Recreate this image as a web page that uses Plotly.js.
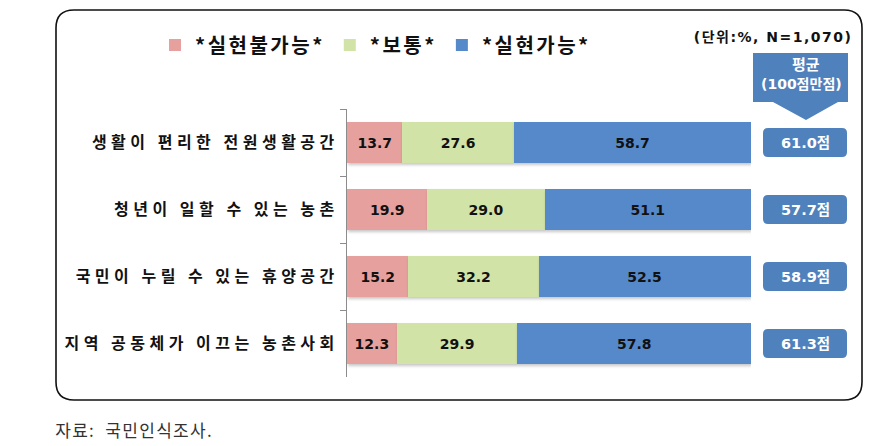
<!DOCTYPE html>
<html>
<head>
<meta charset="utf-8">
<script src="https://cdn.plot.ly/plotly-3.0.1.min.js"></script>
<style>
  html, body { margin: 0; padding: 0; background: #fff; }
  #chart { width: 896px; height: 446px; }
  .ytick text { letter-spacing: 4.5px; }
  .legendtext { letter-spacing: 2.5px; }
  .bars .point path { filter: drop-shadow(1px 2px 1.5px rgba(0,0,0,0.22)); }
  .annotation[data-index="6"] text { letter-spacing: 1.5px; }
  .annotation[data-index="7"] text { letter-spacing: 1.3px; }
</style>
</head>
<body>
<div id="chart"></div>
<script>
const categories = ['생활이 편리한 전원생활공간', '청년이 일할 수 있는 농촌', '국민이 누릴 수 있는 휴양공간', '지역 공동체가 이끄는 농촌사회'];
const seriesNames = ['*실현불가능*', '*보통*', '*실현가능*'];
const impossible = [13.7, 19.9, 15.2, 12.3];
const normal = [27.6, 29.0, 32.2, 29.9];
const possible = [58.7, 51.1, 52.5, 57.8];
const averages = [61.0, 57.7, 58.9, 61.3];
const unitText = '(단위:%, N=1,070)';
const headerLines = ['평균', '(100점만점)'];
const sourceText = '자료:  국민인식조사.';

const colors = ['#E6A19F', '#D1E3A7', '#5589C9'];
const boxColor = '#4F81BD';
const numFont = 'DejaVu Sans, Noto Sans CJK KR, sans-serif';
const krFont = 'Noto Sans CJK KR, sans-serif';

const seriesValues = [impossible, normal, possible];
const traces = seriesValues.map((vals, i) => ({
  type: 'bar',
  orientation: 'h',
  name: seriesNames[i],
  y: categories,
  x: vals,
  marker: { color: colors[i], line: { width: 0 } },
  texttemplate: '%{x:.1f}',
  textposition: 'inside',
  insidetextanchor: 'middle',
  constraintext: 'none',
  textfont: { family: numFont, size: 14, color: '#111', weight: 'bold' },
  hoverinfo: 'skip'
}));

// plot area in pixels: x 347..751, y 109..377
const L = 347, R = 751, T = 109, B = 377;
const px = v => (v - L) / (R - L);
const py = v => (B - v) / (B - T);

function roundRectPaper(x0, y0, x1, y1, r) {
  const P = (x, y) => px(x).toFixed(5) + ',' + py(y).toFixed(5);
  return 'M' + P(x0 + r, y0) + ' L' + P(x1 - r, y0) + ' Q' + P(x1, y0) + ' ' + P(x1, y0 + r) +
    ' L' + P(x1, y1 - r) + ' Q' + P(x1, y1) + ' ' + P(x1 - r, y1) +
    ' L' + P(x0 + r, y1) + ' Q' + P(x0, y1) + ' ' + P(x0, y1 - r) +
    ' L' + P(x0, y0 + r) + ' Q' + P(x0, y0) + ' ' + P(x0 + r, y0) + ' Z';
}

const shapes = [];
shapes.push({ type: 'path', xref: 'paper', yref: 'paper', path: roundRectPaper(56, 10, 862, 400, 18),
  line: { color: '#111', width: 1.6 }, fillcolor: 'rgba(0,0,0,0)', layer: 'below' });
const P = (x, y) => px(x).toFixed(5) + ',' + py(y).toFixed(5);
shapes.push({ type: 'path', xref: 'paper', yref: 'paper',
  path: 'M' + P(753, 53) + ' L' + P(848, 53) + ' L' + P(848, 102) + ' L' + P(838, 102) + ' L' + P(806, 120) +
    ' L' + P(773, 102) + ' L' + P(753, 102) + ' Z',
  line: { width: 0 }, fillcolor: boxColor });
const boxPath = 'M -37 -14.5 L 37 -14.5 Q 42 -14.5 42 -9.5 L 42 9.5 Q 42 14.5 37 14.5 L -37 14.5 Q -42 14.5 -42 9.5 L -42 -9.5 Q -42 -14.5 -37 -14.5 Z';
categories.forEach((c, i) => {
  shapes.push({ type: 'path', xref: 'paper', yref: 'y', xsizemode: 'pixel', ysizemode: 'pixel',
    xanchor: px(805), yanchor: c, path: boxPath, line: { width: 0 }, fillcolor: boxColor });
});

const annotations = [];
categories.forEach((c, i) => {
  annotations.push({ xref: 'paper', yref: 'y', x: px(805), y: c, text: averages[i].toFixed(1) + '점',
    showarrow: false, xanchor: 'center', yanchor: 'middle',
    font: { family: numFont, size: 14.5, color: '#fff', weight: 'bold' } });
});
annotations.push({ xref: 'paper', yref: 'paper', x: px(806), y: py(64), text: headerLines[0], showarrow: false,
  xanchor: 'center', yanchor: 'middle', font: { family: krFont, size: 15, color: '#fff', weight: 'bold' } });
annotations.push({ xref: 'paper', yref: 'paper', x: px(801), y: py(84), text: headerLines[1], showarrow: false,
  xanchor: 'center', yanchor: 'middle', font: { family: numFont, size: 14, color: '#fff', weight: 'bold' } });
annotations.push({ xref: 'paper', yref: 'paper', x: px(843), y: py(37), text: unitText, showarrow: false,
  xanchor: 'right', yanchor: 'middle', font: { family: numFont, size: 14, color: '#111', weight: 'bold' } });
annotations.push({ xref: 'paper', yref: 'paper', x: px(61), y: py(429), text: sourceText, showarrow: false,
  xanchor: 'left', yanchor: 'middle', font: { family: krFont, size: 17, color: '#333' } });

const layout = {
  width: 896, height: 446,
  margin: { l: L, r: 896 - R, t: T, b: 446 - B, pad: 0 },
  paper_bgcolor: '#fff', plot_bgcolor: '#fff',
  barmode: 'stack', bargap: 0.39,
  showlegend: true,
  legend: { orientation: 'h', x: px(155), xanchor: 'left', y: py(45), yanchor: 'middle',
    font: { family: krFont, size: 20, color: '#111', weight: 'bold' }, itemwidth: 30, traceorder: 'normal',
    bgcolor: 'rgba(0,0,0,0)' },
  xaxis: { range: [0, 100], visible: false, fixedrange: true },
  yaxis: { type: 'category', categoryorder: 'array', categoryarray: categories, autorange: 'reversed',
    showline: true, linecolor: '#8C8C8C', linewidth: 1, ticks: 'outside', tickson: 'boundaries',
    ticklen: 6, tickcolor: '#8C8C8C', ticklabelstandoff: 4, showgrid: false, zeroline: false,
    tickfont: { family: krFont, size: 16, color: '#111', weight: 'bold' } },
  shapes: shapes,
  annotations: annotations,
  font: { family: krFont }
};

Plotly.newPlot('chart', traces, layout, { displayModeBar: false, staticPlot: true });
</script>
</body>
</html>
